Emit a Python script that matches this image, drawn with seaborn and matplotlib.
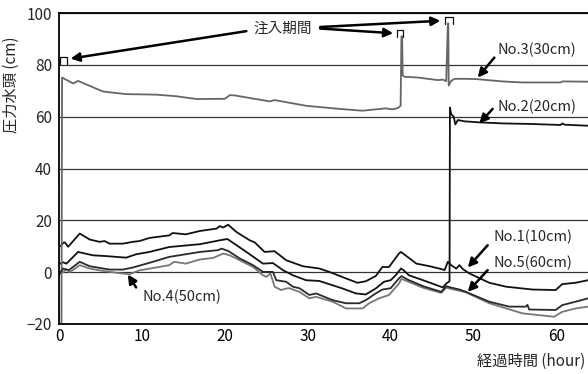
import numpy as np
import pandas as pd
import matplotlib
matplotlib.use("Agg")
import matplotlib.pyplot as plt
import seaborn as sns

# ---------------- data ----------------
t1 = [0.2, 0.5, 0.7, 1.1, 2.5, 3.7, 4.9, 5.5, 6.1, 7.7, 8.9, 9.7, 10.9, 13.3, 13.7, 15.3, 17.0, 19.0, 19.4,
      19.8, 20.4, 21.4, 23.0, 23.6, 24.8, 26.0, 27.4, 29.4, 31.4, 32.6, 34.6, 36.0, 37.0, 38.2, 39.0, 39.8,
      40.4, 41.0, 41.25, 43.1, 44.7, 46.1, 46.5, 46.9, 47.3, 47.9, 48.3, 48.7, 49.5, 51.9, 53.9, 57.1, 59.9,
      60.7, 62.3, 63.8]
v1 = [10.0, 11.3, 11.5, 9.8, 14.9, 12.6, 11.7, 12.0, 11.0, 11.0, 11.7, 12.0, 13.2, 14.2, 15.1, 14.6, 15.9, 16.8,
      17.8, 17.2, 18.3, 15.5, 12.3, 11.5, 7.8, 8.1, 4.6, 2.3, 1.4, 0.1, -2.4, -4.1, -3.5, -1.5, 2.0, 2.0, 4.6,
      7.2, 7.8, 3.3, 2.3, 1.2, 0.8, 4.0, 2.7, 1.4, 2.7, 1.2, -0.5, -4.1, -5.6, -6.7, -6.9, -4.6, -4.1, -3.1]

t2 = [0.1, 0.5, 0.9, 2.3, 4.1, 5.7, 8.1, 9.3, 10.9, 13.3, 17.0, 19.4, 20.3, 21.0, 22.6, 24.6, 25.8, 27.0,
      28.2, 29.8, 31.4, 34.2, 35.8, 37.0, 38.2, 39.2, 40.0, 40.6, 41.25, 41.5, 42.2, 43.9, 46.3, 46.7, 47.1,
      47.15, 47.3, 47.6, 47.8, 48.1, 48.9, 50.7, 53.5, 56.7, 60.5, 60.7, 61.0, 63.8]
v2 = [3.3, 3.8, 3.3, 7.8, 6.5, 6.2, 5.6, 6.9, 7.8, 9.7, 10.8, 12.3, 12.8, 11.3, 7.8, 3.3, 3.5, 0.8, -1.2,
      -3.1, -3.4, -6.3, -8.2, -8.6, -6.3, -3.7, -3.1, -1.2, 1.4, 0.9, -1.2, -3.1, -5.9, -4.4, -3.5, 63.5,
      61.0, 60.0, 57.0, 58.7, 58.2, 57.8, 57.4, 57.2, 56.8, 57.4, 56.9, 56.5]

t3 = [0.3, 0.37, 1.7, 2.3, 5.3, 8.1, 11.7, 14.1, 16.6, 20.0, 20.6, 21.2, 23.0, 25.4, 26.0, 29.8, 33.8, 36.6,
      39.4, 40.2, 40.85, 41.2, 41.3, 41.38, 41.45, 41.65, 43.3, 45.7, 46.3, 46.7, 46.9, 46.95, 47.0, 47.3,
      47.7, 48.9, 50.3, 53.5, 55.9, 60.5, 60.7, 63.8]
v3 = [-20, 75.1, 72.8, 73.8, 69.7, 68.7, 68.5, 67.9, 66.8, 66.9, 68.3, 68.2, 67.2, 65.9, 66.4, 64.2, 63.0,
      62.3, 63.2, 62.8, 63.3, 64.2, 91.0, 91.0, 76.0, 75.4, 75.1, 74.1, 74.3, 73.7, 96.0, 96.0, 72.0, 73.8,
      74.6, 74.6, 74.5, 73.6, 73.2, 73.2, 73.6, 73.5]

t4 = [0.1, 0.9, 1.3, 2.5, 3.7, 4.9, 7.3, 8.5, 9.7, 11.7, 13.3, 13.9, 15.3, 17.0, 18.6, 19.8, 20.6, 23.4,
      24.6, 25.0, 25.5, 26.0, 26.8, 27.4, 27.8, 29.0, 30.2, 31.0, 33.0, 34.2, 34.6, 36.6, 37.4, 38.6, 39.8,
      41.0, 41.3, 42.0, 43.9, 46.1, 46.7, 47.1, 48.3, 49.1, 51.9, 55.9, 59.7, 60.7, 62.3, 63.8]
v4 = [-0.8, 1.0, 0.0, 2.7, 1.4, 0.7, -0.4, -0.8, 0.7, 1.8, 2.7, 4.0, 3.3, 4.9, 5.5, 7.2, 6.5, 2.0, -1.2,
      -1.8, -0.5, -5.6, -6.9, -6.3, -6.2, -7.6, -10.1, -9.5, -11.4, -13.3, -14.0, -14.0, -12.0, -10.1, -8.8,
      -4.4, -2.6, -3.5, -6.0, -8.0, -6.0, -6.3, -7.2, -7.8, -12.0, -15.9, -17.2, -15.3, -14.0, -13.3]

t5 = [0.1, 0.5, 1.2, 2.5, 3.7, 6.1, 7.7, 8.9, 10.9, 13.3, 17.0, 19.2, 19.6, 20.4, 21.8, 23.4, 24.6, 25.8,
      26.2, 27.4, 28.2, 29.0, 30.2, 31.0, 33.0, 34.6, 36.2, 37.0, 38.2, 39.0, 40.0, 41.0, 41.3, 42.0, 43.9,
      46.1, 46.7, 47.1, 48.3, 49.1, 49.5, 51.9, 54.3, 56.3, 56.5, 56.7, 59.9, 60.7, 62.3, 63.8]
v5 = [-0.4, 1.4, 0.8, 4.0, 2.3, 1.0, 1.0, 1.8, 3.6, 5.9, 7.8, 8.5, 9.1, 8.2, 5.3, 2.7, 0.1, 0.1, -3.1,
      -3.7, -5.6, -6.2, -8.8, -8.2, -10.8, -12.0, -12.0, -10.8, -8.2, -6.7, -6.2, -2.4, -1.5, -2.8, -5.4,
      -7.6, -5.4, -5.8, -6.7, -7.6, -8.2, -11.4, -13.3, -13.3, -12.6, -14.4, -14.6, -12.7, -11.4, -10.1]

# injection period markers (start, end, base, top)
inj_start = [0.15, 40.8, 46.5]
inj_end = [1.0, 41.45, 47.5]
inj_base = [80.0, 90.8, 95.9]
inj_top = [83.0, 93.5, 98.6]

series_names = ["No.1", "No.2", "No.3", "No.4", "No.5"]
series_colors = ["#111111", "#111111", "#666666", "#777777", "#2a2a2a"]
series_t = [t1, t2, t3, t4, t5]
series_v = [v1, v2, v3, v4, v5]

labels = ["No.3(30cm)", "No.2(20cm)", "No.1(10cm)", "No.5(60cm)", "No.4(50cm)"]
label_xy = [(57.6, 85.8), (57.6, 63.8), (57.2, 13.7), (57.2, 3.5), (14.8, -9.4)]
arrow_tail = [(52.5, 82.8), (52.3, 63.0), (51.7, 10.4), (51.7, 0.8), (9.3, -5.9)]
arrow_tip = [(50.5, 75.1), (50.7, 57.4), (49.3, 1.8), (49.3, -7.6), (8.3, -0.9)]

inj_label = "注入期間"
inj_label_xy = (27.0, 93.8)
inj_tails = [(22.6, 93.0), (31.5, 94.6), (31.5, 94.0)]
inj_tips = [(1.4, 82.4), (46.0, 97.0), (40.3, 92.2)]

# ---------------- plot ----------------
sns.set_style("white")
plt.rcParams['font.family'] = ['Noto Sans CJK JP', 'DejaVu Sans']

fig = plt.figure(figsize=(5.88, 3.74), dpi=100)
ax = fig.add_axes([59 / 588, (374 - 324) / 374, 529 / 588, 311 / 374])

for name, col, tt, vv in zip(series_names, series_colors, series_t, series_v):
    df = pd.DataFrame({"t": tt, "v": vv})
    sns.lineplot(data=df, x="t", y="v", ax=ax, color=col, lw=1.3, estimator=None, sort=False, legend=False)

for s, e, b, tp in zip(inj_start, inj_end, inj_base, inj_top):
    ax.plot([s, s, e, e], [b, tp, tp, b], color="#111111", lw=0.9)

ax.set_xlim(0, 63.8)
ax.set_ylim(-20, 100)
ax.set_xticks(np.arange(0, 61, 10))
ax.set_yticks(np.arange(-20, 101, 20))
ax.grid(axis="y", color="#333333", lw=0.9)
ax.grid(axis="x", visible=False)
ax.tick_params(axis="x", direction="in", length=6, width=1, labelsize=11, pad=3, colors="black")
ax.tick_params(axis="y", length=0, labelsize=11, pad=5)
for sp in ["left", "bottom", "top"]:
    ax.spines[sp].set_color("black")
    ax.spines[sp].set_linewidth(1.3)
ax.spines["right"].set_visible(False)

ax.set_ylabel("圧力水頭 (cm)", fontsize=11)
ax.yaxis.set_label_coords(-0.074, 0.77)
ax.set_xlabel("経過時間 (hour)", fontsize=11, ha="right")
ax.xaxis.set_label_coords(0.995, -0.093)

for lab, xy, tail, tip in zip(labels, label_xy, arrow_tail, arrow_tip):
    ax.text(xy[0], xy[1], lab, fontsize=10.5, ha="center", va="center")
    ax.annotate("", xy=tip, xytext=tail,
                arrowprops=dict(arrowstyle="-|>", color="black", lw=1.8, mutation_scale=13,
                                shrinkA=0, shrinkB=0))

ax.text(inj_label_xy[0], inj_label_xy[1], inj_label, fontsize=10.5, ha="center", va="center")
for tail, tip in zip(inj_tails, inj_tips):
    ax.annotate("", xy=tip, xytext=tail,
                arrowprops=dict(arrowstyle="-|>", color="black", lw=1.8, mutation_scale=13,
                                shrinkA=0, shrinkB=0))

fig.savefig("out.png", dpi=100)
